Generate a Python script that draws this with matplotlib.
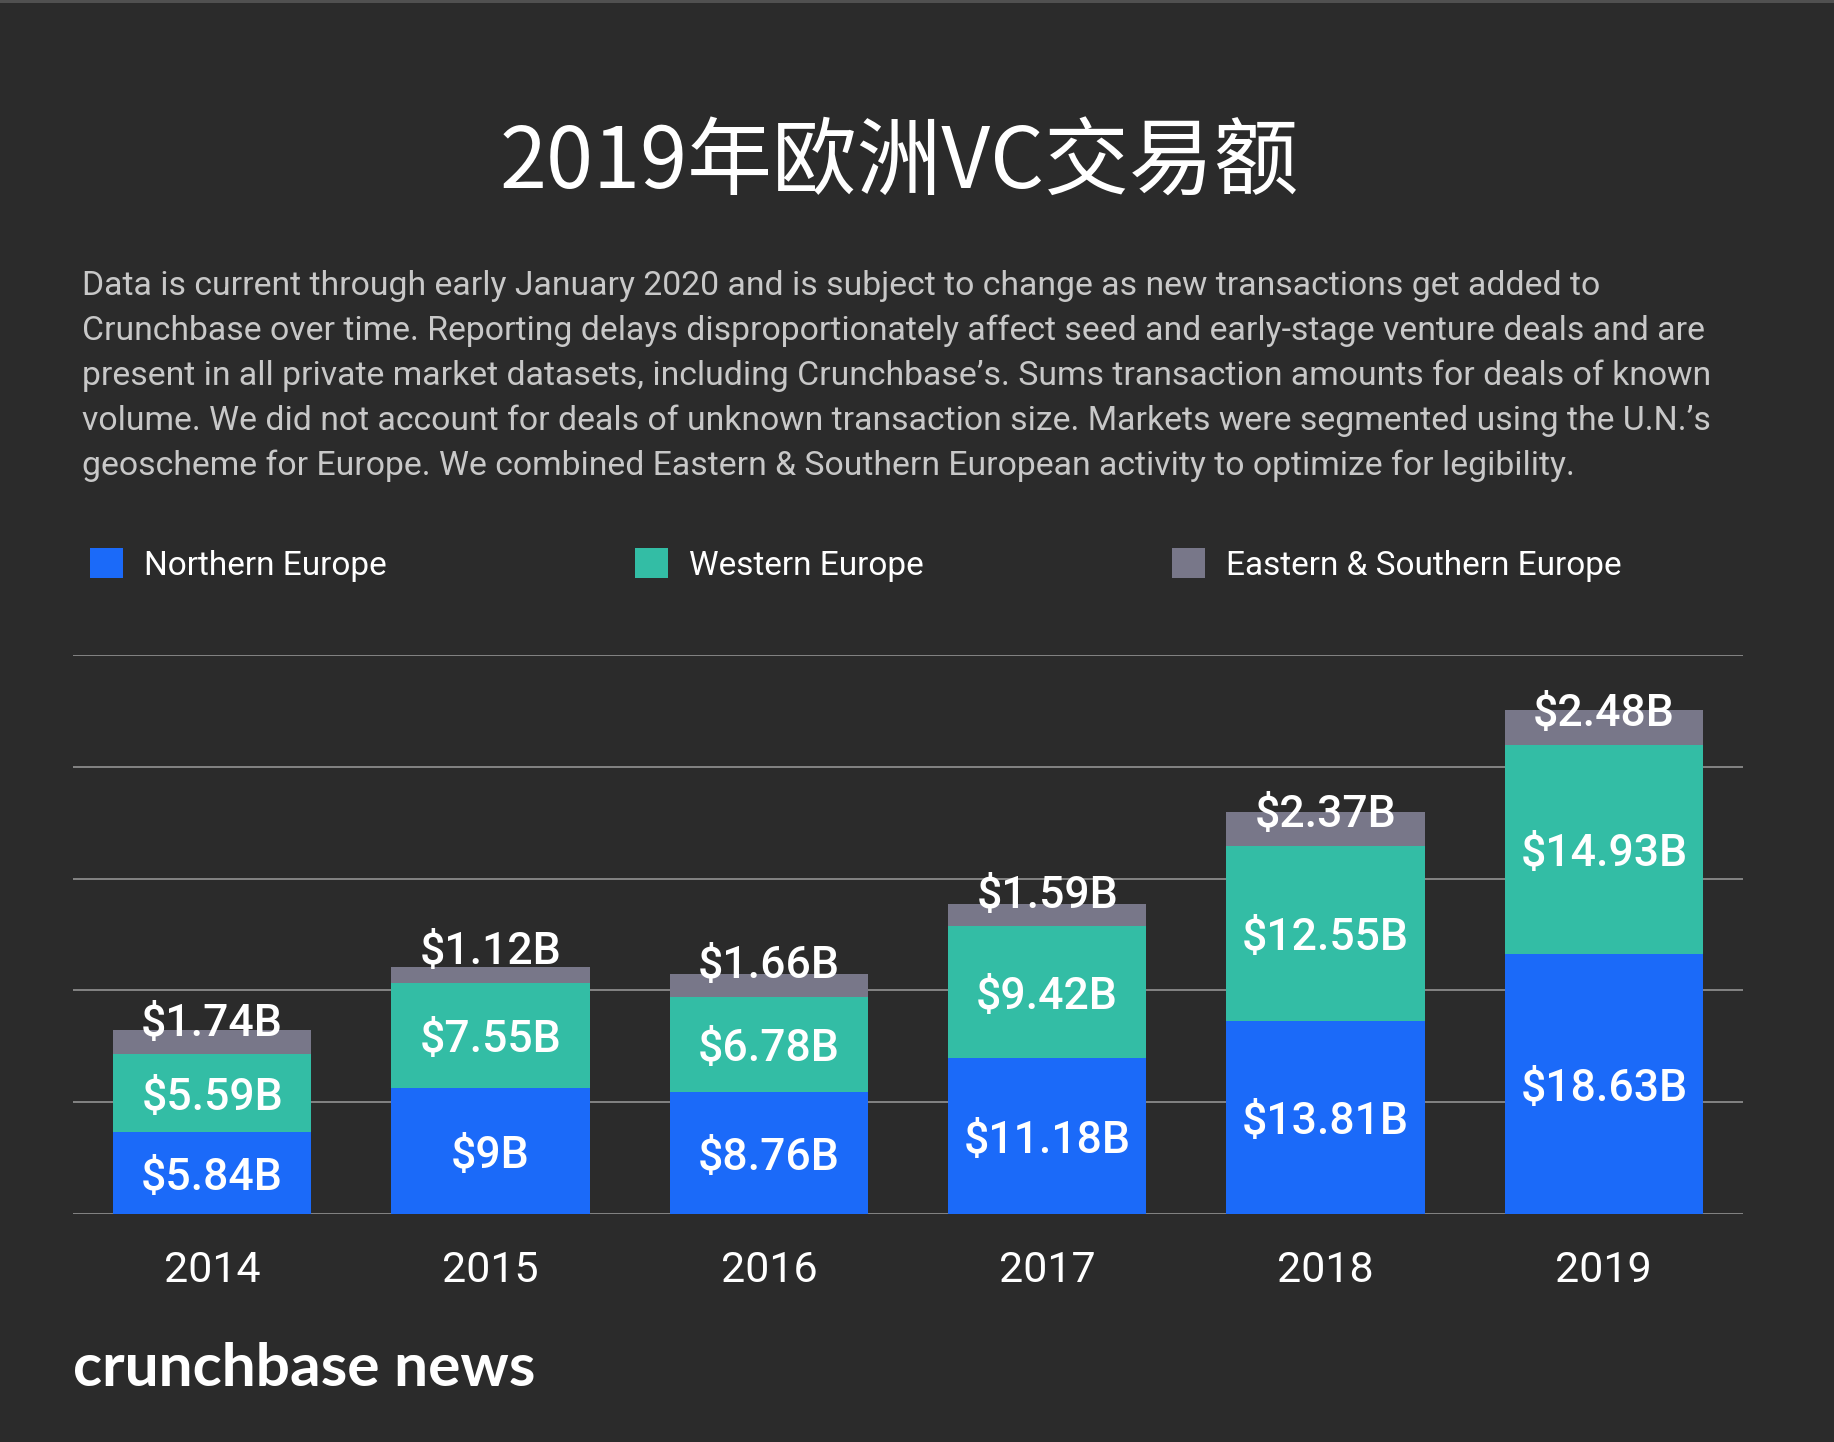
import matplotlib.pyplot as plt
import numpy as np

# European VC deal value by region, $B
years = ["2014", "2015", "2016", "2017", "2018", "2019"]
northern = [5.84, 9.00, 8.76, 11.18, 13.81, 18.63]
western = [5.59, 7.55, 6.78, 9.42, 12.55, 14.93]
east_south = [1.74, 1.12, 1.66, 1.59, 2.37, 2.48]
northern_lbl = ["$5.84B", "$9B", "$8.76B", "$11.18B", "$13.81B", "$18.63B"]
western_lbl = ["$5.59B", "$7.55B", "$6.78B", "$9.42B", "$12.55B", "$14.93B"]
east_south_lbl = ["$1.74B", "$1.12B", "$1.66B", "$1.59B", "$2.37B", "$2.48B"]
series_names = ["Northern Europe", "Western Europe", "Eastern & Southern Europe"]

title = "2019年欧洲VC交易额"
note_lines = [
    "Data is current through early January 2020 and is subject to change as new transactions get added to",
    "Crunchbase over time. Reporting delays disproportionately affect seed and early-stage venture deals and are",
    "present in all private market datasets, including Crunchbase\u2019s. Sums transaction amounts for deals of known",
    "volume. We did not account for deals of unknown transaction size. Markets were segmented using the U.N.\u2019s",
    "geoscheme for Europe. We combined Eastern & Southern European activity to optimize for legibility.",
]

bg = "#2b2b2b"
c_blue = "#1b6af9"
c_green = "#33bda5"
c_gray = "#787789"

plt.rcParams['font.family'] = ['Roboto', 'DejaVu Sans']

W, H = 1834, 1442
fig = plt.figure(figsize=(W / 100, H / 100), dpi=100, facecolor=bg)

# thin lighter stripe along the top edge
fig.add_artist(plt.Rectangle((0, 1 - 3 / H), 1, 3 / H, transform=fig.transFigure,
                             color="#505050", lw=0))

fig.text(899 / W, 1 - 164 / H, title, family=['Noto Sans CJK SC', 'DejaVu Sans'],
         fontsize=61, color="white", ha="center", va="center")

for i, line in enumerate(note_lines):
    fig.text(82 / W, 1 - (294.5 + 45.2 * i) / H, line, fontsize=24.3, color="#c8c8c8",
             ha="left", va="baseline")

ax = fig.add_axes([73 / W, 1 - 1214 / H, 1670 / W, (1214 - 655) / H])
ax.set_facecolor(bg)
x = np.arange(len(years))
bw = 0.712
b1 = ax.bar(x, northern, bw, color=c_blue, label=series_names[0], zorder=2)
b2 = ax.bar(x, western, bw, bottom=northern, color=c_green, label=series_names[1], zorder=2)
base3 = np.array(northern) + np.array(western)
b3 = ax.bar(x, east_south, bw, bottom=base3, color=c_gray, label=series_names[2], zorder=2)

lbl_kw = dict(ha="center", va="center", color="white", fontsize=32, fontweight="medium",
              textcoords="offset points", zorder=3)
for i in range(len(years)):
    ax.annotate(northern_lbl[i], (x[i], northern[i] / 2), xytext=(0, -3.5), **lbl_kw)
    ax.annotate(western_lbl[i], (x[i], northern[i] + western[i] / 2), xytext=(0, -3.5), **lbl_kw)
    ax.annotate(east_south_lbl[i], (x[i], base3[i]), xytext=(0, 22), **lbl_kw)

ax.set_xlim(-0.5, len(years) - 0.5)
ax.set_ylim(0, 40)
ax.set_yticks([0, 8, 16, 24, 32, 40])
ax.yaxis.grid(True, color="#9c9c9c", linewidth=1.1, zorder=1)
ax.set_axisbelow(True)
ax.set_xticks(x)
ax.set_xticklabels(years)
ax.tick_params(axis="x", length=0, pad=26, labelsize=31, labelcolor="white")
ax.tick_params(axis="y", length=0, labelleft=False)
for s in ax.spines.values():
    s.set_visible(False)

fig.legend(handles=[b1, b2, b3], labels=series_names, loc="center left",
           bbox_to_anchor=(90 / W, 1 - 565 / H), ncol=3, frameon=False,
           fontsize=24, labelcolor="white", handlelength=0.99, handleheight=0.99,
           handletextpad=0.63, columnspacing=7.44, borderpad=0, borderaxespad=0)

fig.text(73 / W, 1 - 1386 / H, "crunchbase news", family=['Lato', 'DejaVu Sans'],
         fontweight="bold", fontsize=43.5, color="white", ha="left", va="baseline")

plt.savefig("out.png", dpi=100, facecolor=bg)
